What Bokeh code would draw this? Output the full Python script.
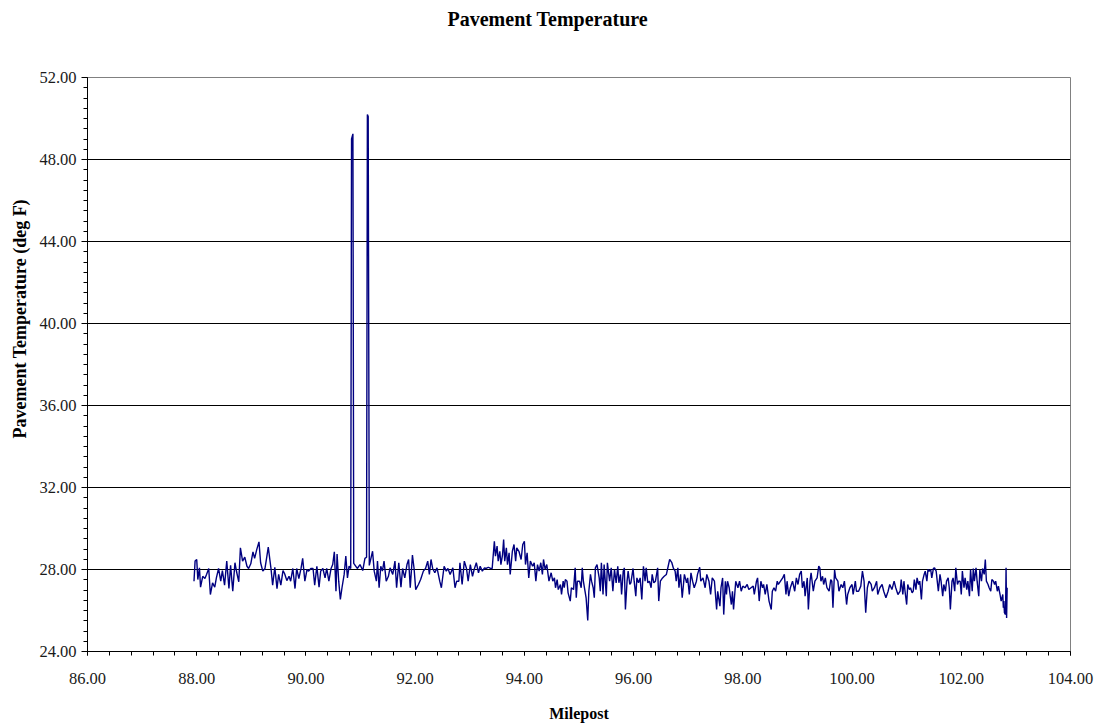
from bokeh.plotting import figure
from bokeh.models import Range1d, SingleIntervalTicker, PrintfTickFormatter, ColumnDataSource, Title
from bokeh.embed import file_html
from bokeh.resources import INLINE

# --- data (milepost, pavement temperature deg F) ---
milepost_a = [87.95, 87.97, 88.00, 88.02, 88.05, 88.07, 88.11, 88.15, 88.18, 88.22,
              88.25, 88.29, 88.33, 88.36, 88.40, 88.44, 88.47, 88.51, 88.55, 88.59,
              88.62, 88.66, 88.70, 88.73, 88.77, 88.80, 88.84, 88.88, 88.92, 88.95,
              88.99, 89.03, 89.06, 89.10, 89.14, 89.17, 89.21, 89.25, 89.28, 89.31,
              89.36, 89.39, 89.43, 89.47, 89.50, 89.54, 89.58, 89.61, 89.65, 89.69,
              89.72, 89.76, 89.80, 89.83, 89.87, 89.91, 89.94, 89.98, 90.02, 90.05,
              90.09, 90.13, 90.16, 90.20, 90.24, 90.27, 90.31, 90.35, 90.38, 90.42,
              90.46, 90.49, 90.52, 90.55, 90.57, 90.60, 90.63, 90.66, 90.70, 90.73,
              90.76, 90.79, 90.82]
temp_a = [27.43, 28.41, 28.49, 27.51, 28.08, 27.14, 27.67, 27.56, 27.76, 28.05,
          26.78, 27.35, 27.14, 27.59, 28.05, 27.43, 27.95, 27.24, 28.41, 27.07,
          28.21, 26.94, 28.33, 27.89, 27.40, 29.06, 28.41, 28.60, 28.16, 28.05,
          28.28, 28.86, 28.54, 28.98, 29.35, 28.33, 27.92, 28.05, 28.57, 29.09,
          28.05, 27.24, 28.11, 27.07, 27.76, 27.24, 27.95, 27.79, 27.46, 27.67,
          27.43, 28.05, 27.07, 28.05, 27.56, 28.05, 28.54, 27.43, 28.00, 27.92,
          28.05, 28.05, 27.24, 28.16, 27.14, 27.92, 28.05, 27.59, 28.05, 27.43,
          28.05, 28.24, 28.86, 26.94, 28.76, 27.43, 26.54, 27.11, 27.76, 28.65,
          27.59, 28.16, 28.05]

milepost_spikes = [90.835, 90.86, 90.875, 90.94, 90.99, 91.04, 91.08, 91.11, 91.125, 91.14, 91.16]
temp_spikes = [49.00, 49.25, 28.30, 28.05, 28.24, 27.95, 28.54, 28.60, 50.20, 50.10, 28.20]

milepost_b = [91.22, 91.25, 91.29, 91.31, 91.34, 91.37, 91.40, 91.43, 91.47, 91.51,
              91.54, 91.59, 91.63, 91.66, 91.70, 91.74, 91.77, 91.81, 91.85, 91.88,
              91.91, 91.95, 91.98, 92.01, 92.06, 92.10, 92.15, 92.19, 92.23, 92.26,
              92.29, 92.32, 92.36, 92.40, 92.45, 92.48, 92.53, 92.57, 92.60, 92.64,
              92.69, 92.73, 92.76, 92.80, 92.82, 92.86, 92.90, 92.94, 92.97, 93.01,
              93.05, 93.08, 93.12, 93.16, 93.19, 93.23, 93.27, 93.30, 93.34, 93.38,
              93.41, 93.45, 93.47, 93.50, 93.52, 93.55, 93.57, 93.60, 93.62, 93.64,
              93.67, 93.69, 93.72, 93.74, 93.78, 93.81, 93.84, 93.86, 93.90, 93.94,
              93.97, 94.00, 94.02, 94.05, 94.08, 94.11]
temp_b = [28.89, 27.92, 27.43, 28.41, 27.11, 28.16, 27.92, 28.41, 27.43, 27.67,
          28.08, 27.76, 28.41, 27.11, 28.33, 27.14, 28.05, 27.59, 28.24, 28.49,
          27.11, 28.70, 28.05, 27.02, 27.27, 27.51, 27.92, 28.05, 28.41, 27.76,
          28.49, 28.05, 27.84, 28.08, 27.43, 27.11, 28.16, 27.92, 28.05, 27.76,
          28.08, 27.11, 27.43, 27.43, 28.33, 27.27, 28.41, 28.05, 27.43, 28.24,
          27.67, 28.00, 28.33, 27.84, 28.16, 27.92, 28.08, 28.05, 28.11, 28.05,
          28.05, 29.38, 28.65, 29.14, 28.41, 28.89, 28.24, 28.73, 29.46, 28.41,
          29.06, 28.24, 28.81, 27.76, 28.89, 29.22, 28.41, 29.06, 28.89, 28.49,
          29.22, 29.38, 28.24, 28.81, 27.59, 28.41]

milepost_c = [94.15, 94.18, 94.21, 94.24, 94.27, 94.30, 94.33, 94.35, 94.38, 94.41,
              94.45, 94.49, 94.52, 94.55, 94.57, 94.60, 94.62, 94.66, 94.68, 94.71,
              94.73, 94.75, 94.78, 94.80, 94.84, 94.86, 94.90, 94.93, 94.95, 94.97,
              95.01, 95.04, 95.06, 95.08, 95.11, 95.13, 95.16, 95.18, 95.21, 95.23,
              95.26, 95.28, 95.30, 95.33, 95.37, 95.39, 95.41, 95.44, 95.46, 95.50,
              95.52, 95.56, 95.59, 95.62, 95.65, 95.68, 95.71, 95.73, 95.76, 95.78,
              95.81, 95.83, 95.85, 95.88, 95.90, 95.93, 95.95, 95.99, 96.01, 96.04,
              96.06, 96.09, 96.12, 96.15, 96.18, 96.21, 96.23, 96.26, 96.29, 96.32,
              96.34, 96.37, 96.40, 96.44, 96.46, 96.49, 96.53, 96.56, 96.60, 96.62,
              96.66, 96.70, 96.73, 96.76, 96.78, 96.81, 96.83, 96.86, 96.89, 96.93,
              96.97, 96.99, 97.02, 97.05, 97.08, 97.11, 97.15, 97.17, 97.21, 97.23,
              97.27, 97.31, 97.34, 97.38, 97.41, 97.44, 97.48, 97.52, 97.54, 97.58]
temp_c = [28.16, 28.33, 27.43, 28.24, 27.92, 28.33, 27.76, 28.49, 28.00, 28.24,
          27.43, 27.84, 27.43, 27.59, 27.11, 27.51, 27.02, 27.27, 26.78, 27.43,
          27.11, 27.51, 27.43, 26.86, 26.46, 27.11, 27.02, 28.08, 26.62, 27.43,
          27.43, 27.11, 28.08, 27.43, 26.94, 26.62, 25.51, 26.94, 27.76, 27.43,
          27.11, 26.62, 28.08, 28.24, 27.59, 26.94, 28.33, 26.78, 28.24, 26.70,
          28.33, 27.43, 28.08, 26.94, 28.00, 27.35, 28.16, 27.35, 27.76, 26.78,
          27.92, 28.08, 26.05, 27.43, 27.92, 27.27, 27.35, 28.05, 27.43, 26.70,
          27.59, 27.35, 27.59, 26.54, 28.16, 27.43, 28.08, 27.35, 27.43, 27.11,
          27.76, 27.35, 27.43, 28.08, 26.46, 27.43, 27.59, 27.67, 27.76, 28.00,
          28.49, 28.33, 28.05, 27.92, 27.43, 28.08, 27.11, 27.76, 26.62, 27.76,
          27.35, 27.59, 26.78, 27.84, 27.43, 27.11, 27.43, 27.76, 28.11, 27.43,
          27.59, 27.11, 27.76, 27.43, 26.78, 27.59, 27.43, 26.05, 26.94, 26.21]

milepost_d = [97.60, 97.63, 97.65, 97.68, 97.70, 97.72, 97.75, 97.79, 97.81, 97.83,
              97.87, 97.91, 97.94, 97.97, 98.00, 98.04, 98.08, 98.11, 98.15, 98.19,
              98.21, 98.25, 98.27, 98.30, 98.33, 98.36, 98.38, 98.41, 98.44, 98.48,
              98.52, 98.54, 98.57, 98.60, 98.63, 98.65, 98.69, 98.73, 98.76, 98.79,
              98.81, 98.84, 98.87, 98.91, 98.95, 98.98, 99.01, 99.04, 99.07, 99.09,
              99.12, 99.14, 99.18, 99.20, 99.23, 99.25, 99.29, 99.32, 99.36, 99.39,
              99.41, 99.43, 99.46, 99.48, 99.51, 99.54, 99.58, 99.61, 99.63, 99.65,
              99.68, 99.70, 99.74, 99.76, 99.80, 99.83, 99.86, 99.90, 99.92, 99.96,
              100.00, 100.02, 100.06, 100.08, 100.12, 100.16, 100.19, 100.22, 100.25, 100.28,
              100.31, 100.35, 100.37, 100.41, 100.45, 100.47, 100.51, 100.55, 100.58, 100.62,
              100.66, 100.69, 100.73, 100.77, 100.80, 100.84, 100.88]
temp_d = [27.11, 27.59, 25.80, 27.43, 26.78, 27.43, 27.11, 26.29, 26.94, 26.05,
          27.43, 27.11, 27.43, 26.94, 27.19, 27.11, 27.27, 27.02, 27.11, 27.19,
          26.78, 27.43, 27.59, 26.46, 27.43, 27.11, 27.27, 26.78, 27.27, 26.46,
          26.05, 26.94, 27.11, 26.94, 27.43, 27.27, 27.43, 27.59, 27.76, 26.78,
          27.43, 26.70, 27.11, 27.43, 26.94, 27.59, 27.27, 27.76, 27.92, 27.11,
          27.43, 26.70, 27.59, 26.05, 27.43, 27.84, 26.94, 27.43, 27.59, 28.16,
          28.08, 27.43, 27.67, 27.27, 27.59, 27.11, 26.94, 27.51, 27.43, 26.13,
          27.98, 27.59, 27.43, 26.94, 27.27, 27.11, 27.43, 26.29, 26.78, 27.11,
          27.27, 26.78, 27.43, 26.94, 26.94, 27.19, 27.92, 27.43, 25.89, 27.11,
          27.43, 27.27, 26.94, 27.11, 27.43, 26.78, 27.11, 27.27, 26.94, 26.62,
          26.94, 27.27, 27.02, 27.43, 27.11, 26.78, 26.94]

milepost_e = [100.90, 100.93, 100.95, 100.97, 101.00, 101.02, 101.05, 101.07, 101.10, 101.12,
              101.14, 101.17, 101.19, 101.22, 101.24, 101.27, 101.29, 101.32, 101.34, 101.37,
              101.39, 101.41, 101.44, 101.46, 101.49, 101.51, 101.54, 101.56, 101.58, 101.61,
              101.63, 101.66, 101.68, 101.71, 101.73, 101.76, 101.78, 101.80, 101.83, 101.85,
              101.88, 101.90, 101.93, 101.95, 101.98, 102.00, 102.02, 102.05, 102.07, 102.10,
              102.12, 102.15, 102.17, 102.20, 102.22, 102.24, 102.27, 102.29, 102.32, 102.34,
              102.37, 102.39, 102.42, 102.44, 102.46, 102.49, 102.51, 102.54, 102.56, 102.59,
              102.61, 102.63, 102.66, 102.68, 102.71, 102.73, 102.76, 102.77, 102.78, 102.79,
              102.81, 102.82, 102.83, 102.84]
temp_e = [27.51, 26.78, 27.43, 26.94, 26.29, 27.27, 27.02, 27.11, 26.86, 26.94,
          27.51, 27.02, 27.59, 27.27, 27.43, 26.54, 27.43, 27.76, 27.92, 27.43,
          28.00, 27.92, 28.00, 27.59, 28.05, 28.08, 27.92, 27.43, 26.94, 27.76,
          27.43, 26.70, 27.27, 26.94, 27.43, 27.59, 27.11, 26.05, 27.43, 27.59,
          26.94, 28.08, 27.27, 27.43, 27.43, 26.78, 27.92, 27.11, 27.59, 27.02,
          27.43, 26.70, 28.00, 26.94, 28.05, 27.43, 28.08, 27.43, 26.70, 28.00,
          27.43, 28.05, 27.76, 28.49, 27.43, 27.27, 27.11, 26.94, 27.51, 27.43,
          27.27, 27.43, 26.94, 27.19, 26.78, 26.46, 26.78, 26.13, 26.46, 25.89,
          25.80, 28.08, 25.64, 27.11]

title_text = "Pavement Temperature"
x_label = "Milepost"
y_label = "Pavement Temperature (deg F)"

milepost = milepost_a + milepost_spikes + milepost_b + milepost_c + milepost_d + milepost_e
temp_f = temp_a + temp_spikes + temp_b + temp_c + temp_d + temp_e
n = min(len(milepost), len(temp_f))
source = ColumnDataSource(data=dict(x=milepost[:n], y=temp_f[:n]))

SERIF = "Liberation Serif"

p = figure(width=1096, height=725, output_backend="svg", toolbar_location=None, title=None,
           x_range=Range1d(86, 104), y_range=Range1d(24, 52),
           min_border_left=87, min_border_right=26, min_border_top=77, min_border_bottom=74)

# empty spacer band between the frame and the chart title (added first: nearest the frame)
p.add_layout(Title(text=" ", standoff=24, text_font=SERIF, text_font_size="20px"), "above")
# chart title (left-aligned title shifted right so it is centred on the page)
p.add_layout(Title(text=title_text, align="left", offset=360, standoff=0,
                   text_font=SERIF, text_font_size="20px", text_font_style="bold",
                   text_color="#000000"), "above")

p.line("x", "y", source=source, line_color="#000080", line_width=1.4)

p.xaxis.ticker = SingleIntervalTicker(interval=2, num_minor_ticks=5)
p.yaxis.ticker = SingleIntervalTicker(interval=4, num_minor_ticks=8)
p.xaxis.formatter = PrintfTickFormatter(format="%.2f")
p.yaxis.formatter = PrintfTickFormatter(format="%.2f")

for ax in (p.xaxis, p.yaxis):
    ax.axis_line_color = "#000000"
    ax.axis_line_width = 1
    ax.major_tick_line_color = "#000000"
    ax.minor_tick_line_color = "#000000"
    ax.major_tick_in = 0
    ax.minor_tick_in = 0
    ax.major_label_text_font = SERIF
    ax.major_label_text_font_size = "16.5px"
    ax.major_label_text_color = "#1a1a1a"
    ax.axis_label_text_font = SERIF
    ax.axis_label_text_font_size = "16px"
    ax.axis_label_text_font_style = "bold"
    ax.axis_label_text_color = "#000000"

p.xaxis.axis_label = x_label
p.xaxis.major_tick_out = 4
p.xaxis.minor_tick_out = 4
p.yaxis.major_tick_out = 6
p.yaxis.minor_tick_out = 4
p.xaxis.major_label_standoff = 17
p.xaxis.axis_label_standoff = 18
p.yaxis.major_label_standoff = 5

# vertical axis title as a left-side title, shifted up from the frame bottom
p.add_layout(Title(text=y_label, align="left", offset=213, standoff=10, vertical_align="top",
                   text_font=SERIF, text_font_size="18px", text_font_style="bold",
                   text_color="#000000"), "left")

p.xgrid.visible = False
p.ygrid.grid_line_color = "#000000"
p.ygrid.grid_line_width = 1
p.ygrid.grid_line_alpha = 1.0

p.outline_line_color = "#808080"
p.outline_line_width = 1
p.background_fill_color = "#ffffff"
p.border_fill_color = "#ffffff"

open("out.html", "w").write(file_html(p, INLINE))
